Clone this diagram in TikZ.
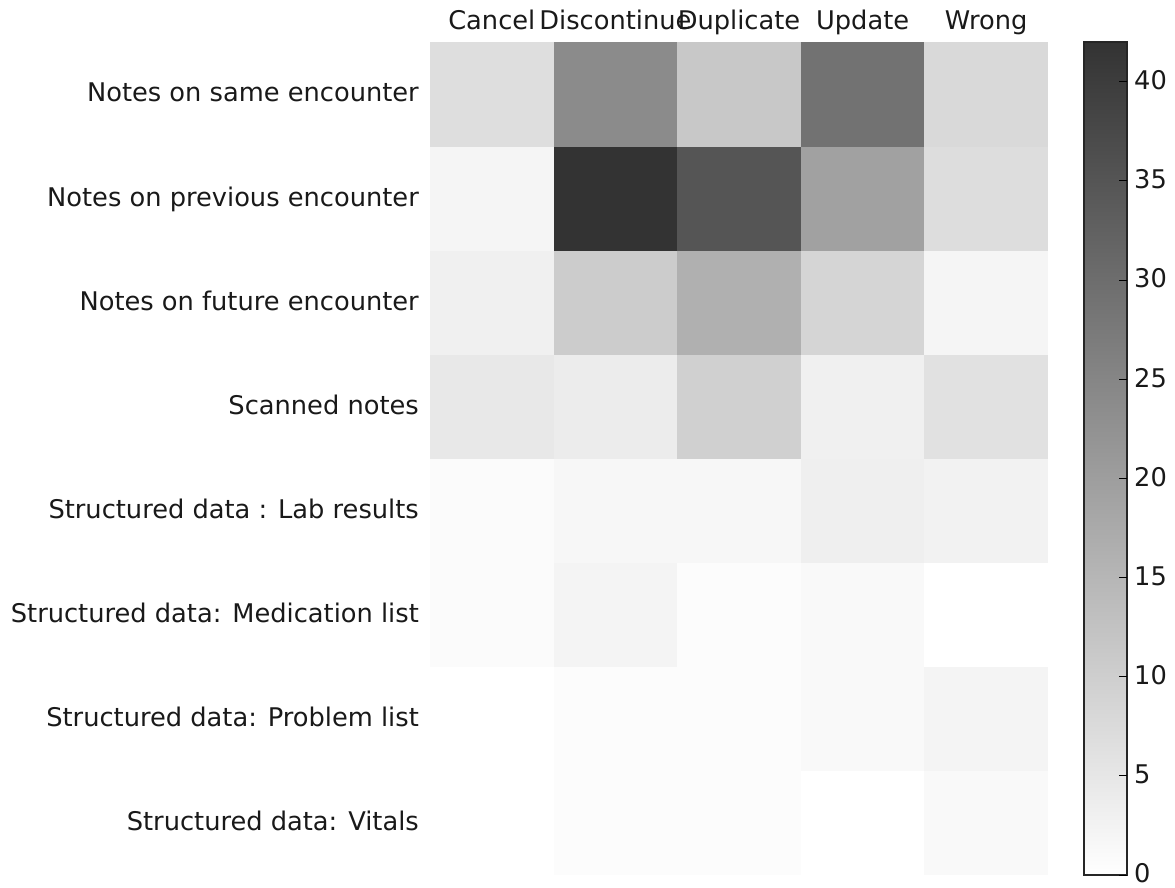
\documentclass[tikz,border=0pt]{standalone}
\usepackage{fontspec}
\setmainfont{DejaVu Sans}
\begin{document}
\begin{tikzpicture}[x=1pt,y=-1pt,
  lab/.style={font=\fontsize{25.7}{30}\selectfont, inner sep=0pt, text=black!90},
  cbar/.style={draw=black!85, line width=1.5pt},
  cbtick/.style={draw=black, line width=1pt}]
\useasboundingbox (0,0) rectangle (1175,888);
% heatmap cells
\foreach \row [count=\r from 0] in {
  {222,139,200,114,217},
  {245,51,85,161,221},
  {240,204,176,213,245},
  {232,236,208,240,225},
  {251,247,247,239,242},
  {251,244,252,249,255},
  {255,252,252,249,244},
  {255,252,252,255,249}} {
  \foreach \g [count=\c from 0] in \row {
    \pgfmathsetmacro\gg{\g/255}
    \definecolor{cellcol}{gray}{\gg}
    \fill[cellcol] (430+\c*123.6, 42.5+\r*104.06) rectangle ++(123.6,104.06);
  }
}
% row labels
\foreach \t [count=\r from 0] in {
  Notes on same encounter,
  Notes on previous encounter,
  Notes on future encounter,
  Scanned notes,
  Structured data : Lab results,
  Structured data: Medication list,
  Structured data: Problem list,
  Structured data: Vitals} {
  \node[lab, anchor=base east] (row\r) at (419, 42.5+52+\r*104.06+7.5) {\t};
}
% column labels
\foreach \t [count=\c from 0] in {Cancel,Discontinue,Duplicate,Update,Wrong} {
  \node[lab, anchor=base] (col\c) at (430+61.8+\c*123.6, 30) {\t};
}
% colorbar
\shade[bottom color=white, top color=black!80] (1084,875) rectangle (1127,42);
\draw[cbar] (1084,875) rectangle (1127,42);
\foreach \v in {0,5,...,40} {
  \draw[cbtick] (1127, 875-\v*19.833) -- (1119, 875-\v*19.833);
  \node[lab, anchor=west] (tick\v) at (1134, 873.5-\v*19.833) {\v};
}
\end{tikzpicture}
\end{document}
